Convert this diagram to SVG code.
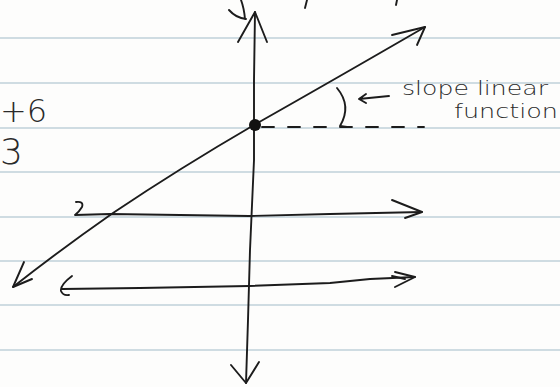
<svg xmlns="http://www.w3.org/2000/svg" width="560" height="387" viewBox="0 0 560 387">
<style>
.rule{stroke:#cfdce2;stroke-width:2;fill:none}
.ink{stroke:#1c1c1c;stroke-width:1.9;fill:none;stroke-linecap:round;stroke-linejoin:round}
.hand{font-family:"DejaVu Sans","Liberation Sans",sans-serif;fill:#2a2a2a;font-weight:300}
</style>
<rect width="560" height="387" fill="#fdfdfc"/>
<g id="paper">
<line class="rule" x1="0" y1="38" x2="560" y2="38"/>
<line class="rule" x1="0" y1="83" x2="560" y2="83"/>
<line class="rule" x1="0" y1="128" x2="560" y2="128"/>
<line class="rule" x1="0" y1="172" x2="560" y2="172"/>
<line class="rule" x1="0" y1="217" x2="560" y2="217"/>
<line class="rule" x1="0" y1="261" x2="560" y2="261"/>
<line class="rule" x1="0" y1="305" x2="560" y2="305"/>
<line class="rule" x1="0" y1="350" x2="560" y2="350"/>
</g>
<g id="left-text">
<text class="hand" x="0" y="122" font-size="32">+6</text>
<text class="hand" x="0" y="164" font-size="36">3</text>
</g>
<g id="top-marks">
<path class="ink" d="M229,10 Q236,18 246,19 M241,0 Q244,8 245,19"/>
<path class="ink" d="M307,0 L305,8"/>
<path class="ink" d="M397,0 L396,5"/>
</g>
<g id="y-axis">
<path class="ink" d="M255,12 L254,80 L254,160 L250,250 L248,320 L246,383"/>
<path class="ink" d="M238,42 L255,12 L267,42"/>
<path class="ink" d="M231,365 L246,383 L259,362"/>
</g>
<g id="slope-line">
<path class="ink" d="M13,287 Q60,250 113,213 Q180,168 254,125 Q330,82 425,27"/>
<path class="ink" d="M392,35 L425,27 L417,45"/>
<path class="ink" d="M24,262 L13,287 L32,279"/>
<circle cx="255" cy="125" r="6" fill="#111"/>
<path class="ink" d="M262,127 L424,127" stroke-dasharray="12,14"/>
</g>
<g id="angle">
<path class="ink" d="M337,88 Q352,106 340,126 L347,127"/>
<path class="ink" d="M359,99 L389,96 M366,94 L359,99 L366,103"/>
</g>
<g id="label">
<text class="hand" x="402" y="95" font-size="20" textLength="146" lengthAdjust="spacingAndGlyphs">slope linear</text>
<text class="hand" x="454" y="118" font-size="20" textLength="104" lengthAdjust="spacingAndGlyphs">function</text>
</g>
<g id="line-1">
<path class="ink" d="M76,202 Q84,201 82,207 Q79,212 75,215 L110,214 L180,215 L249,216 L330,214 L422,212"/>
<path class="ink" d="M392,200 L422,212 L405,218"/>
</g>
<g id="line-2">
<path class="ink" d="M72,276 Q60,285 61,291 Q63,296 69,295 M62,289 L140,288 L249,286 L330,283 L370,279 L415,277"/>
<path class="ink" d="M395,272 L415,277 L395,287 M392,276 L405,279"/>
</g>
</svg>
